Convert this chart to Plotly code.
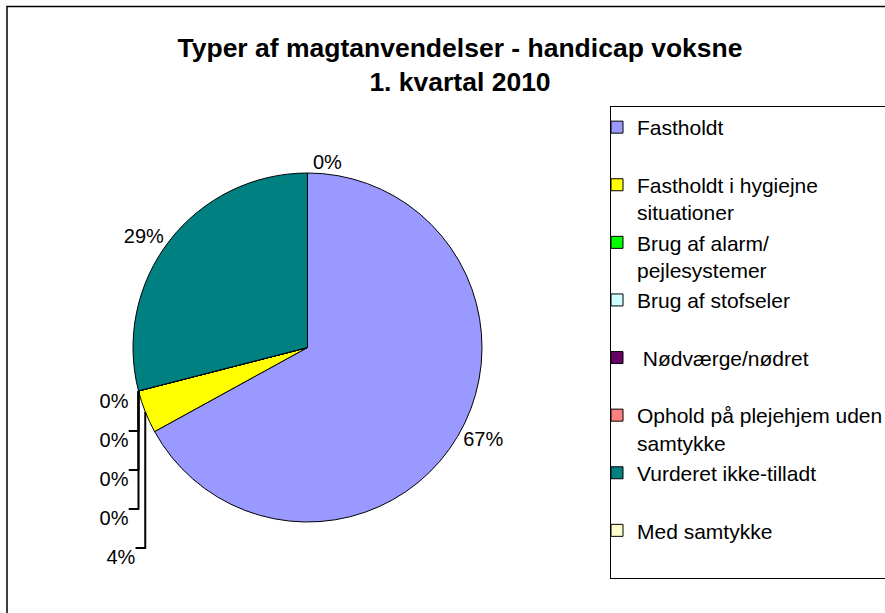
import plotly.graph_objects as go

categories = [
    "Fastholdt",
    "Fastholdt i hygiejne<br>situationer",
    "Brug af alarm/<br>pejlesystemer",
    "Brug af stofseler",
    " Nødværge/nødret",
    "Ophold på plejehjem uden<br>samtykke",
    "Vurderet ikke-tilladt",
    "Med samtykke",
]
values = [67, 4, 0, 0, 0, 0, 29, 0]
colors = ["#9999FF", "#FFFF00", "#00FF00", "#CCFFFF", "#660066", "#FF8080", "#008080", "#FFFFCC"]
title_text = "<b>Typer af magtanvendelser - handicap voksne<br>1. kvartal 2010</b>"

W, H = 885, 613
FONT = "Liberation Sans, Arial, sans-serif"

# legend entries: pad single-line names to two lines so each slot has equal height
legend_labels = [c if "<br>" in c else c + "<br> " for c in categories]

# label text; the crowded small-slice labels on the left get a small spacer line so
# the automatic label spreading gives them more room (as in the original)
base_tpl = "%{percent:.0%}"
spacer_tpl = "<span style='font-size:10px'>\u00a0</span><br>" + base_tpl
templates = [
    spacer_tpl if (v < 5 and i < len(values) - 1) else base_tpl
    for i, v in enumerate(values)
]

fig = go.Figure(
    go.Pie(
        labels=legend_labels,
        values=values,
        sort=False,
        direction="clockwise",
        rotation=0,
        marker=dict(colors=colors, line=dict(color="black", width=1)),
        textposition="outside",
        texttemplate=templates,
        outsidetextfont=dict(family=FONT, size=20, color="black"),
        domain=dict(x=[133 / W, 482 / W], y=[91 / H, 440 / H]),
        hoverinfo="label+percent",
    )
)

fig.update_layout(
    width=W,
    height=H,
    margin=dict(l=0, r=0, t=0, b=0, autoexpand=False),
    paper_bgcolor="white",
    plot_bgcolor="white",
    font=dict(family=FONT, color="black"),
    title=dict(
        text=title_text,
        x=460 / W,
        xanchor="center",
        xref="paper",
        y=1 - 57 / H,
        yanchor="middle",
        yref="container",
        font=dict(family=FONT, size=26.5, color="black"),
    ),
    legend=dict(
        x=610 / W,
        xanchor="left",
        y=1 - 106 / H,
        yanchor="top",
        bgcolor="white",
        bordercolor="black",
        borderwidth=1,
        font=dict(family=FONT, size=21.0, color="black"),
        valign="top",
        indentation=-14,
        traceorder="normal",
    ),
    shapes=[
        dict(
            type="rect",
            xref="paper",
            yref="paper",
            x0=7 / W,
            x1=1.05,
            y0=-0.05,
            y1=1 - 6.5 / H,
            line=dict(color="black", width=1.5),
            fillcolor="rgba(0,0,0,0)",
            layer="below",
        )
    ],
)

fig.write_html(
    "out.html",
    config={"displayModeBar": False},
    post_script="document.body.style.margin='0';",
)
